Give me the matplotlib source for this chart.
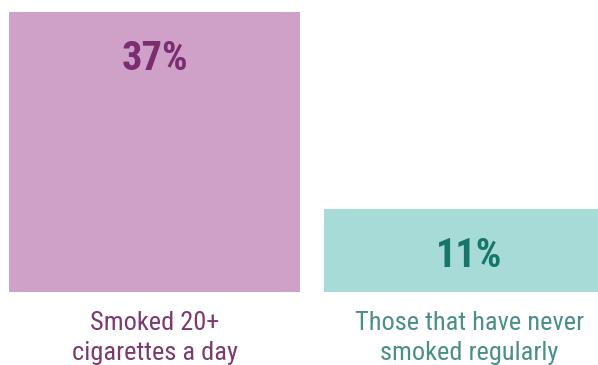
import matplotlib
matplotlib.use("Agg")
import matplotlib.pyplot as plt
from matplotlib import font_manager as fm

categories = ["Smoked 20+\ncigarettes a day", "Those that have never\nsmoked regularly"]
values = [37, 11]
value_labels = ["37%", "11%"]
bar_colors = ["#cfa0c8", "#a6dbd7"]
value_colors = ["#7a2d6f", "#17756a"]
label_colors = ["#7b3a70", "#4b8f88"]

names = {f.name for f in fm.fontManager.ttflist}
fam = [n for n in ["Liberation Sans Narrow", "Roboto Condensed", "DejaVu Sans"] if n in names]

W, H = 598, 365
fig = plt.figure(figsize=(W / 100, H / 100), dpi=100)
ax = fig.add_axes([0, 73 / H, 1, 280 / H])
unit = 315.0
x = list(range(len(values)))
ax.bar(x, values, width=291 / unit, color=bar_colors, clip_on=True)
ax.set_xlim(-154.5 / unit, (W - 154.5) / unit)
ax.set_ylim(0, 37)
ax.axis("off")

for xi, v, lab, c in zip(x, values, value_labels, value_colors):
    ax.annotate(lab, (xi, v), xytext=(0, -47 * 72 / 100), textcoords="offset points",
                ha="center", va="center", fontsize=29, fontweight="bold",
                color=c, family=fam, annotation_clip=False)

for xi, lab, c in zip(x, categories, label_colors):
    ax.annotate(lab, (xi, 0), xytext=(0, -19 * 72 / 100), textcoords="offset points",
                ha="center", va="top", fontsize=19, color=c, family=fam,
                linespacing=1.32, annotation_clip=False)

fig.savefig("out.png", dpi=100)
